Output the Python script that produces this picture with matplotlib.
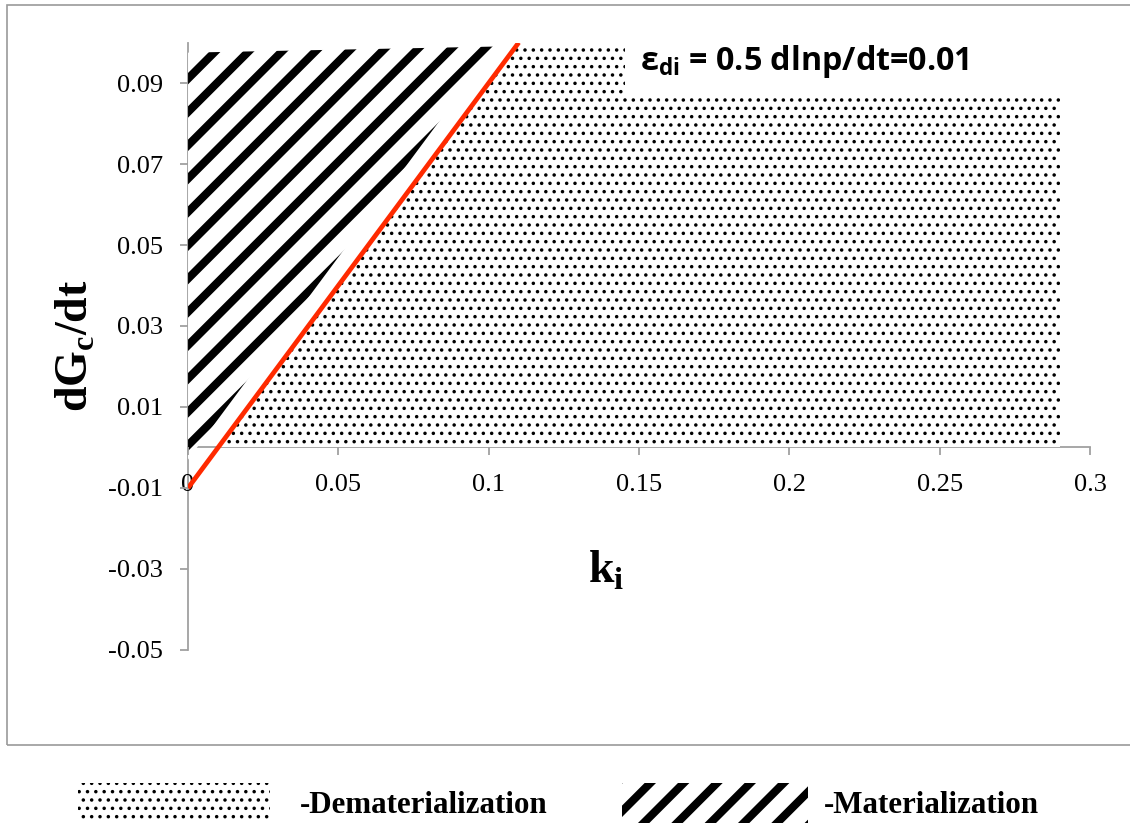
import matplotlib
matplotlib.use("Agg")
import matplotlib.pyplot as plt
from matplotlib.patches import Polygon, Rectangle, Patch

plt.rcParams['mathtext.fontset'] = 'custom'
plt.rcParams['mathtext.bf'] = 'Liberation Serif:bold'
plt.rcParams['mathtext.rm'] = 'Liberation Serif:bold'
plt.rcParams['mathtext.sf'] = 'Open Sans:bold'

# boundary line dGc/dt vs k_i
line_k = [0.0, 0.11]
line_g = [-0.01, 0.10]

# dematerialization region (dotted)
demat_k = [0.01, 0.29, 0.29, 0.11]
demat_g = [0.0, 0.0, 0.0995, 0.0995]

# materialization region (striped)
mat_k = [0.0, 0.0, 0.102]
mat_g = [-0.003, 0.0975, 0.099]

xticks = [0, 0.05, 0.1, 0.15, 0.2, 0.25, 0.3]
xlabels = ["0", "0.05", "0.1", "0.15", "0.2", "0.25", "0.3"]
yticks = [-0.05, -0.03, -0.01, 0.01, 0.03, 0.05, 0.07, 0.09]
ylabels = ["-0.05", "-0.03", "-0.01", "0.01", "0.03", "0.05", "0.07", "0.09"]

DOT_LW = 1.3
STRIPE_LW = 5.8

fig = plt.figure(figsize=(11.3, 8.24), dpi=100)
ax = fig.add_axes([0.1664, 0.2112, 0.7982, 0.7372])

# outer frame
fig.patches.append(Rectangle((0.0062, 0.0959), 1.0, 0.898, transform=fig.transFigure,
                             fill=False, edgecolor='#9a9a9a', lw=1.2))

with plt.rc_context({'hatch.linewidth': DOT_LW}):
    dots = Polygon(list(zip(demat_k, demat_g)), closed=True, facecolor='white',
                   edgecolor='black', lw=0, hatch='..', zorder=1)
ax.add_patch(dots)
with plt.rc_context({'hatch.linewidth': STRIPE_LW}):
    stripes = Polygon(list(zip(mat_k, mat_g)), closed=True, facecolor='white',
                      edgecolor='black', lw=0, hatch='/', zorder=1)
ax.add_patch(stripes)
if hasattr(dots, 'set_hatch_linewidth'):
    dots.set_hatch_linewidth(DOT_LW)
    stripes.set_hatch_linewidth(STRIPE_LW)

ax.plot(line_k, line_g, color='#ff2a00', lw=3.4, zorder=3, solid_capstyle='butt')

# white box behind the annotation
ax.add_patch(Rectangle((0.4845, 0.9136), 0.49, 0.09, transform=ax.transAxes,
                       facecolor='white', edgecolor='none', zorder=4, clip_on=False))
ax.text(0.501, 0.955, r"ε$_{\mathsf{di}}$ = 0.5 dlnp/dt=0.01", transform=ax.transAxes,
        fontfamily='Open Sans', fontweight='bold', fontsize=23.2, va='baseline',
        ha='left', zorder=5)

ax.set_xlim(0, 0.3)
ax.set_ylim(-0.05, 0.1)
ax.spines['top'].set_visible(False)
ax.spines['right'].set_visible(False)
ax.spines['bottom'].set_position(('data', 0))
for s in ('bottom', 'left'):
    ax.spines[s].set_color('#a0a0a0')
    ax.spines[s].set_linewidth(1.3)
    ax.spines[s].set_zorder(0.5)

ax.set_xticks(xticks)
ax.set_xticklabels(xlabels)
ax.set_yticks(yticks)
ax.set_yticklabels(ylabels)
ax.tick_params(axis='both', direction='out', length=6, width=1.3, color='#a0a0a0',
               labelsize=19)
ax.tick_params(axis='x', pad=13)
ax.tick_params(axis='y', pad=12)
for t in ax.get_xticklabels() + ax.get_yticklabels():
    t.set_fontfamily('Liberation Serif')

ax.set_xlabel(r"k$_{\mathbf{i}}$", fontfamily='Liberation Serif', fontweight='bold',
              fontsize=33)
ax.xaxis.set_label_coords(0.4635, 0.13)
ax.xaxis.label.set_va('center')
ax.set_ylabel(r"dG$_{\mathbf{c}}$/dt", fontfamily='Liberation Serif', fontweight='bold',
              fontsize=33)
ax.yaxis.set_label_coords(-0.125, 0.5)
ax.yaxis.label.set_va('center')

# legend entries, placed separately as in the original
legend_font = {'family': 'Liberation Serif', 'weight': 'bold', 'size': 22.3}
h1 = Patch(facecolor='white', edgecolor='black', lw=0, hatch='..')
h2 = Patch(facecolor='white', edgecolor='black', lw=0, hatch='/')
leg1 = fig.legend([h1], ["-Dematerialization"], loc='center left',
                  bbox_to_anchor=(0.0443, 0.0255), frameon=False, prop=legend_font,
                  handlelength=6.2, handleheight=1.6, handletextpad=0.95)
leg2 = fig.legend([h2], ["-Materialization"], loc='center left',
                  bbox_to_anchor=(0.526, 0.0255), frameon=False, prop=legend_font,
                  handlelength=6.0, handleheight=1.6, handletextpad=0.5)
if hasattr(h1, 'set_hatch_linewidth'):
    leg1.get_patches()[0].set_hatch_linewidth(DOT_LW)
    leg2.get_patches()[0].set_hatch_linewidth(STRIPE_LW)

fig.savefig("out.png", dpi=100)
